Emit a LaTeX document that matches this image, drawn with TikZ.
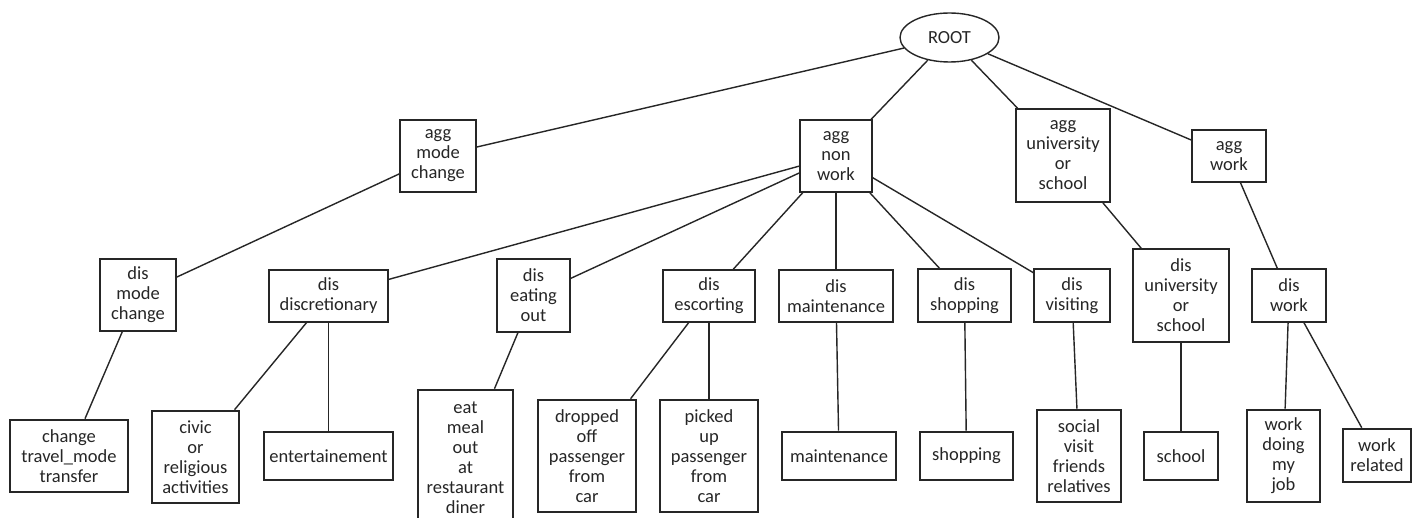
\documentclass[tikz,border=0pt]{standalone}
\usepackage{fontspec}
\setmainfont{Carlito}
\usetikzlibrary{shapes.geometric}
\tikzset{
  inbox/.style={draw=black!85, line width=1.4pt, inner sep=0pt, align=center,
    font=\fontsize{18.5}{20}\selectfont, text=black!85},
  leafbox/.style={inbox, line width=2.6pt},
  conn/.style={draw=black!85, line width=1.4pt},
}
\begin{document}
\begin{tikzpicture}[x=1pt,y=-1pt]
\useasboundingbox[fill=white] (0,0) rectangle (1413,518);
% root
\node[inbox, ellipse, minimum width=99pt, minimum height=49pt] (root) at (949.5,37.5) {ROOT};
% aggregate level
\node[inbox, minimum width=76pt, minimum height=72pt] (amc) at (438,156) {agg\\mode\\change};
\node[inbox, minimum width=72pt, minimum height=72pt] (anw) at (836,156) {agg\\non\\work};
\node[inbox, minimum width=94pt, minimum height=93pt] (aus) at (1063,155.5) {agg\\university\\or\\school};
\node[inbox, minimum width=74pt, minimum height=52pt] (aw) at (1229,156) {agg\\work};
% dis level
\node[inbox, minimum width=76pt, minimum height=72pt] (dmc) at (138,295) {dis\\mode\\change};
\node[inbox, minimum width=119pt, minimum height=52pt] (dd) at (328.5,296) {dis\\discretionary};
\node[inbox, minimum width=73pt, minimum height=73pt] (deo) at (533.5,295.5) {dis\\eating\\out};
\node[inbox, minimum width=92pt, minimum height=52pt] (desc) at (709,296) {dis\\escorting};
\node[inbox, minimum width=114pt, minimum height=52pt] (dm) at (836,296) {dis\\maintenance};
\node[inbox, minimum width=93pt, minimum height=53pt] (ds) at (964.5,295.5) {dis\\shopping};
\node[inbox, minimum width=76pt, minimum height=53pt] (dv) at (1072,295.5) {dis\\visiting};
\node[inbox, minimum width=96pt, minimum height=93pt] (dus) at (1181,295.5) {dis\\university\\or\\school};
\node[inbox, minimum width=74pt, minimum height=53pt] (dw) at (1289,295.5) {dis\\work};
% leaves
\node[leafbox, minimum width=118pt, minimum height=72pt] (l1) at (69,456) {change\\travel\_mode\\transfer};
\node[leafbox, minimum width=87pt, minimum height=92pt] (l2) at (195.5,457) {civic\\or\\religious\\activities};
\node[leafbox, minimum width=129pt, minimum height=48pt] (l3) at (328.5,456) {entertainement};
\node[leafbox, minimum width=95pt, minimum height=136pt] (l4) at (465.5,458) {eat\\meal\\out\\at\\restaurant\\diner};
\node[leafbox, minimum width=98pt, minimum height=112pt] (l5) at (587,456) {dropped\\off\\passenger\\from\\car};
\node[leafbox, minimum width=98pt, minimum height=112pt] (l6) at (709,456) {picked\\up\\passenger\\from\\car};
\node[leafbox, minimum width=114pt, minimum height=48pt] (l7) at (839,456) {maintenance};
\node[leafbox, minimum width=93pt, minimum height=48pt] (l8) at (966.5,456) {shopping};
\node[leafbox, minimum width=84pt, minimum height=92pt] (l9) at (1079,456) {social\\visit\\friends\\relatives};
\node[leafbox, minimum width=74pt, minimum height=48pt] (l10) at (1181,456) {school};
\node[leafbox, minimum width=73pt, minimum height=92pt] (l11) at (1283.5,456) {work\\doing\\my\\job};
\node[leafbox, minimum width=68pt, minimum height=53pt] (l12) at (1377,455.5) {work\\related};
% connectors
\draw[conn] (root) -- (amc);
\draw[conn] (root) -- (anw);
\draw[conn] (root) -- (aus);
\draw[conn] (root) -- (aw);
\draw[conn] (amc) -- (dmc);
\draw[conn] (anw) -- (dd);
\draw[conn] (anw) -- (deo);
\draw[conn] (anw) -- (desc);
\draw[conn] (anw) -- (dm);
\draw[conn] (anw) -- (ds);
\draw[conn] (anw) -- (dv);
\draw[conn] (aus) -- (dus);
\draw[conn] (aw) -- (dw);
\draw[conn] (dmc) -- (l1);
\draw[conn] (dd) -- (l2);
\draw[conn] (dd) -- (l3);
\draw[conn] (deo) -- (l4);
\draw[conn] (desc) -- (l5);
\draw[conn] (desc) -- (l6);
\draw[conn] (dm) -- (l7);
\draw[conn] (ds) -- (l8);
\draw[conn] (dv) -- (l9);
\draw[conn] (dus) -- (l10);
\draw[conn] (dw) -- (l11);
\draw[conn] (dw) -- (l12);
\end{tikzpicture}
\end{document}
